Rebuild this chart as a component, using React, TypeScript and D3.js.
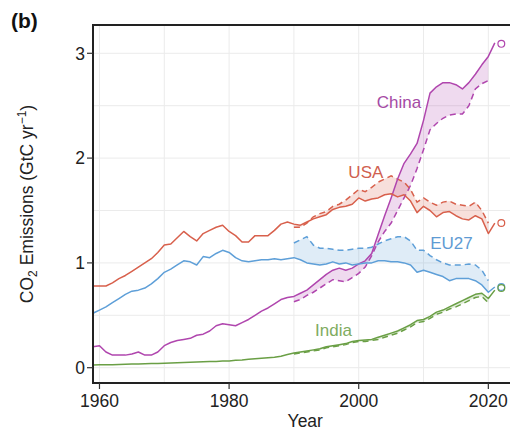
import React from 'react';
import * as d3 from 'd3';

// Emissions in GtC/yr
const years = d3.range(1959, 2022);

const usaTerritorial = [
  0.78, 0.78, 0.78, 0.81, 0.85, 0.88, 0.92, 0.96, 1.0, 1.04, 1.1,
  1.17, 1.18, 1.24, 1.3, 1.25, 1.21, 1.28, 1.31, 1.34, 1.36,
  1.3, 1.26, 1.2, 1.2, 1.26, 1.26, 1.26, 1.31, 1.37, 1.39,
  1.37, 1.36, 1.39, 1.42, 1.44, 1.46, 1.51, 1.53, 1.54, 1.56,
  1.62, 1.59, 1.61, 1.62, 1.65, 1.66, 1.63, 1.65, 1.59, 1.48,
  1.54, 1.5, 1.44, 1.48, 1.49, 1.45, 1.42, 1.41, 1.45, 1.42,
  1.28, 1.38,
];
const eu27Territorial = [
  0.52, 0.55, 0.58, 0.62, 0.66, 0.7, 0.73, 0.74, 0.76, 0.8, 0.85,
  0.91, 0.94, 0.98, 1.02, 1.01, 0.98, 1.06, 1.05, 1.09, 1.12,
  1.1, 1.05, 1.02, 1.01, 1.02, 1.03, 1.03, 1.04, 1.03, 1.04,
  1.05, 1.03, 1.0, 0.99, 0.98, 0.99, 1.01, 0.99, 1.0, 0.98,
  0.99, 1.0, 1.0, 1.02, 1.02, 1.01, 1.01, 1.0, 0.98, 0.91,
  0.93, 0.91, 0.89, 0.87, 0.83, 0.85, 0.85, 0.85, 0.83, 0.79,
  0.72, 0.77,
];
const chinaTerritorial = [
  0.2, 0.21, 0.15, 0.12, 0.12, 0.12, 0.13, 0.15, 0.12, 0.12, 0.15,
  0.21, 0.24, 0.26, 0.27, 0.28, 0.31, 0.32, 0.35, 0.4, 0.42,
  0.41, 0.4, 0.43, 0.46, 0.5, 0.54, 0.57, 0.61, 0.65, 0.67,
  0.68, 0.71, 0.74, 0.79, 0.84, 0.89, 0.93, 0.95, 0.93, 0.95,
  0.99, 1.02, 1.09, 1.27, 1.45, 1.62, 1.8, 1.95, 2.04, 2.14,
  2.36, 2.62, 2.68, 2.72, 2.72, 2.7, 2.66, 2.72, 2.8, 2.89,
  2.97, 3.1,
];
const indiaTerritorial = [
  0.025, 0.027, 0.028, 0.029, 0.031, 0.033, 0.035, 0.036, 0.037, 0.039, 0.041,
  0.043, 0.045, 0.047, 0.049, 0.052, 0.055, 0.057, 0.058, 0.06, 0.063,
  0.065, 0.07, 0.074, 0.08, 0.085, 0.09, 0.095, 0.1, 0.11, 0.125,
  0.14, 0.15, 0.16, 0.17, 0.18, 0.2, 0.21, 0.22, 0.23, 0.25,
  0.26, 0.265, 0.27, 0.29, 0.31, 0.33, 0.35, 0.38, 0.41, 0.45,
  0.46, 0.49, 0.53, 0.55, 0.58, 0.61, 0.64, 0.67, 0.7, 0.71,
  0.66, 0.74,
];

// consumption-based, 1990-2020
const consYears = d3.range(1990, 2021);
const usaConsumption = [
  1.34, 1.34, 1.38, 1.44, 1.47, 1.49, 1.54, 1.56, 1.6, 1.65,
  1.7, 1.68, 1.72, 1.77, 1.8, 1.83, 1.8, 1.77, 1.7, 1.58,
  1.62, 1.58, 1.55, 1.58, 1.59, 1.56, 1.55, 1.54, 1.58, 1.5,
  1.38,
];
const eu27Consumption = [
  1.19, 1.22, 1.25, 1.17, 1.14, 1.14, 1.13, 1.12, 1.12, 1.13,
  1.14, 1.14, 1.15, 1.18, 1.21, 1.23, 1.25, 1.25, 1.21, 1.12,
  1.12, 1.07, 1.03, 1.0, 0.98, 0.98, 0.98, 0.99, 0.98, 0.93,
  0.83,
];
const chinaConsumption = [
  0.63, 0.65, 0.69, 0.72, 0.76, 0.8, 0.84, 0.83, 0.82, 0.86,
  0.9, 0.96, 1.07, 1.2, 1.3, 1.38, 1.5, 1.62, 1.74, 1.9,
  2.08, 2.27, 2.33, 2.38, 2.41, 2.42, 2.42, 2.5, 2.66, 2.71,
  2.74,
];
const indiaConsumption = [
  0.13, 0.14, 0.15, 0.16, 0.17, 0.19, 0.2, 0.21, 0.22, 0.24,
  0.25, 0.25, 0.26, 0.27, 0.29, 0.31, 0.33, 0.36, 0.39, 0.43,
  0.44, 0.47, 0.51, 0.53, 0.56, 0.58, 0.61, 0.64, 0.67, 0.68,
  0.62,
];

// 2021 projection (open circles)
const projYear = 2021;
const projections = [3.09, 1.38, 0.77, 0.76];

const countries = ['China', 'USA', 'EU27', 'India'];
const colors = ['#b046ae', '#d8604c', '#5e9fd8', '#6a9f45'];
const labelColors = ['#a54aa5', '#d0604f', '#5f9bd3', '#7fac5f'];
const territorial = [chinaTerritorial, usaTerritorial, eu27Territorial, indiaTerritorial];
const consumption = [chinaConsumption, usaConsumption, eu27Consumption, indiaConsumption];
const labelYears = [2006.2, 2001.1, 2014.3, 1996.1];
const labelValues = [2.54, 1.87, 1.19, 0.36];

const xTicks = [1960, 1980, 2000, 2020];
const xGrid = [1960, 1970, 1980, 1990, 2000, 2010, 2020];
const yTicks = [0, 1, 2, 3];
const yGrid = [0, 0.5, 1, 1.5, 2, 2.5, 3];

const W = 510;
const H = 430;
const left = 93;
const right = 517.5;
const top = 25;
const bottom = 383;
const font = '"Liberation Sans", Arial, Helvetica, sans-serif';

export default function App() {
  const x = d3.scaleLinear().domain([1959, 2024.5]).range([left, right]);
  const y = d3.scaleLinear().domain([-0.146, 3.27]).range([bottom, top]);

  const line = d3.line<[number, number]>()
    .x(d => x(d[0]))
    .y(d => y(d[1]));

  const area = d3.area<[number, number, number]>()
    .x(d => x(d[0]))
    .y0(d => y(d[1]))
    .y1(d => y(d[2]));

  return (
    <svg width={W} height={H} style={{ position: 'absolute', left: 0, top: 0, background: '#fff' }}
      fontFamily={font}>
      <defs>
        <clipPath id="panel">
          <rect x={left} y={top} width={right - left} height={bottom - top} />
        </clipPath>
      </defs>

      {/* grid */}
      <g stroke="#ebebeb" strokeWidth={1}>
        {yGrid.map(v => (
          <line key={'gy' + v} x1={left} x2={right} y1={y(v)} y2={y(v)} />
        ))}
        {xGrid.map(v => (
          <line key={'gx' + v} x1={x(v)} x2={x(v)} y1={top} y2={bottom} />
        ))}
      </g>

      <g clipPath="url(#panel)">
        {/* ribbons */}
        {countries.map((c, i) => {
          const pts: [number, number, number][] = consYears.map((yr, j) =>
            [yr, territorial[i][yr - 1959], consumption[i][j]]);
          return <path key={'r' + c} d={area(pts) ?? ''} fill={colors[i]} fillOpacity={0.2} />;
        })}
        {/* consumption dashed */}
        {countries.map((c, i) => {
          const pts: [number, number][] = consYears.map((yr, j) => [yr, consumption[i][j]]);
          return <path key={'d' + c} d={line(pts) ?? ''} fill="none" stroke={colors[i]}
            strokeWidth={1.5} strokeDasharray="6,4" />;
        })}
        {/* territorial solid */}
        {countries.map((c, i) => {
          const pts: [number, number][] = years.map((yr, j) => [yr, territorial[i][j]]);
          return <path key={'s' + c} d={line(pts) ?? ''} fill="none" stroke={colors[i]}
            strokeWidth={1.5} strokeLinejoin="round" />;
        })}
        {/* projections */}
        {countries.map((c, i) => (
          <circle key={'p' + c} cx={x(projYear) + 6.5} cy={y(projections[i])} r={3.4}
            fill="none" stroke={colors[i]} strokeWidth={1.2} />
        ))}
        {/* labels */}
        {countries.map((c, i) => (
          <text key={'l' + c} x={x(labelYears[i])} y={y(labelValues[i])} dy="0.36em"
            textAnchor="middle" fontSize={17} fill={labelColors[i]}>{c}</text>
        ))}
      </g>

      {/* panel border */}
      <rect x={left} y={top} width={right - left} height={bottom - top}
        fill="none" stroke="#222" strokeWidth={2} />

      {/* y axis */}
      {yTicks.map(v => (
        <g key={'yt' + v}>
          <line x1={left - 6} x2={left} y1={y(v)} y2={y(v)} stroke="#333" strokeWidth={1.2} />
          <text x={left - 8} y={y(v)} dy="0.36em" textAnchor="end" fontSize={17.5} fill="#222">{v}</text>
        </g>
      ))}
      {/* x axis */}
      {xTicks.map(v => (
        <g key={'xt' + v}>
          <line x1={x(v)} x2={x(v)} y1={bottom} y2={bottom + 6} stroke="#333" strokeWidth={1.2} />
          <text x={x(v)} y={bottom + 24} textAnchor="middle" fontSize={17.5} fill="#222">{v}</text>
        </g>
      ))}

      <text x={(left + right) / 2} y={427} textAnchor="middle" fontSize={17.5} fill="#222">Year</text>
      <text transform={`translate(33,${(top + bottom) / 2}) rotate(-90)`} textAnchor="middle"
        fontSize={17.5} fill="#222">
        CO<tspan fontSize={12} dy={4}>2</tspan><tspan dy={-4}> Emissions (GtC yr</tspan>
        <tspan fontSize={12} dy={-7}>−1</tspan><tspan dy={7}>)</tspan>
      </text>

      <text x={11} y={28} fontSize={21} fontWeight="bold" fill="#111">(b)</text>
    </svg>
  );
}
